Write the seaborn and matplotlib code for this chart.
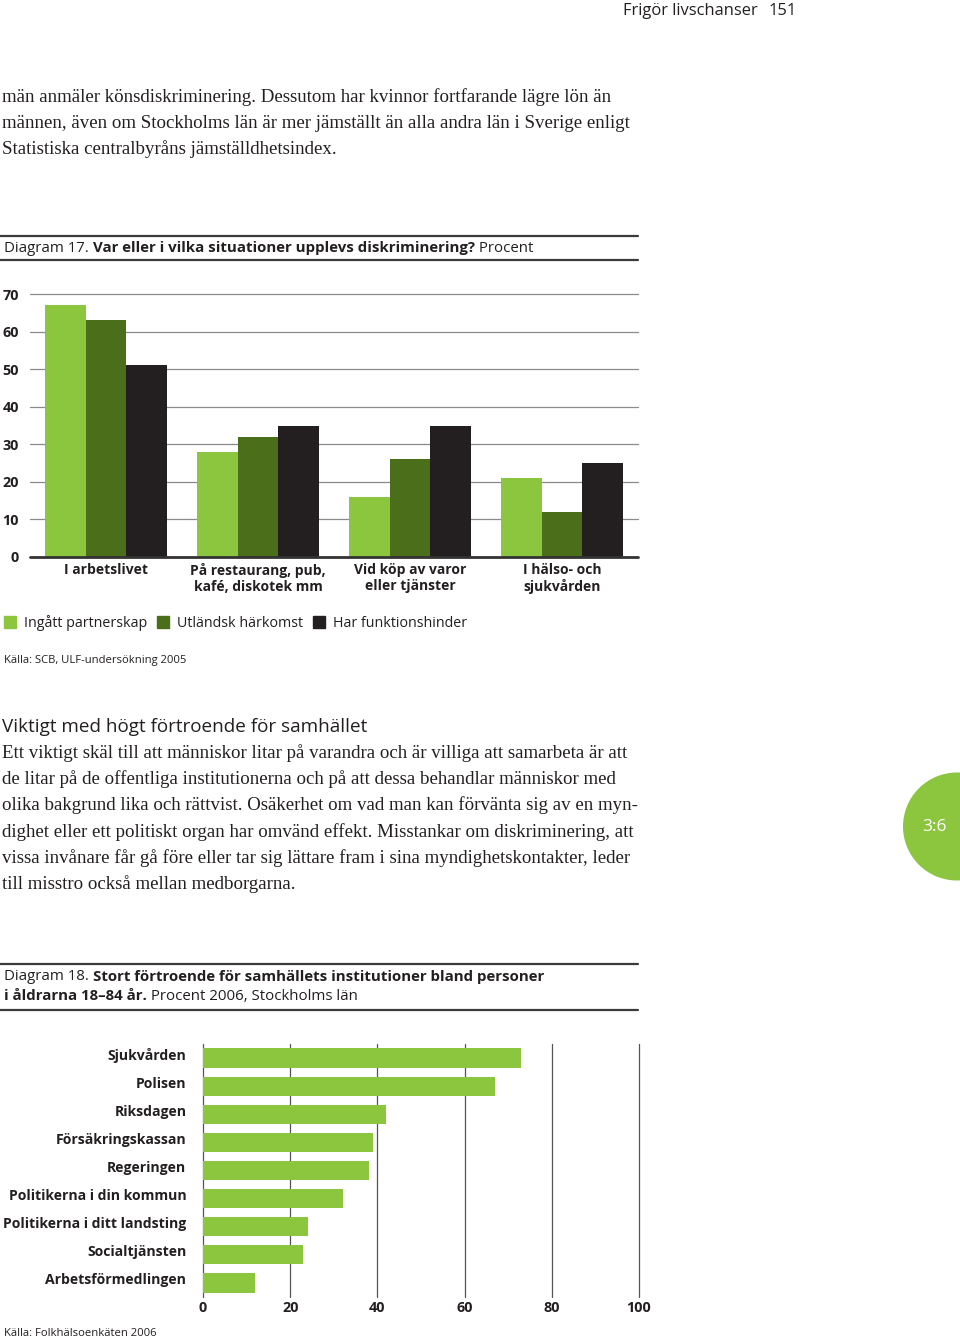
import matplotlib
matplotlib.use("Agg")
import matplotlib.pyplot as plt
import matplotlib.transforms as mtrans
import numpy as np
import pandas as pd
import seaborn as sns
from matplotlib.patches import Patch, Ellipse

# ---------------- data ----------------
categories17 = ["I arbetslivet", "På restaurang, pub,\nkafé, diskotek mm",
                "Vid köp av varor\neller tjänster", "I hälso- och\nsjukvården"]
groups17 = ["Ingått partnerskap", "Utländsk härkomst", "Har funktionshinder"]
partnerskap = [67, 28, 16, 21]
harkomst = [63, 32, 26, 12]
funktionshinder = [51, 35, 35, 25]
yticks17 = [0, 10, 20, 30, 40, 50, 60, 70]

institutions = ["Sjukvården", "Polisen", "Riksdagen", "Försäkringskassan", "Regeringen",
                "Politikerna i din kommun", "Politikerna i ditt landsting",
                "Socialtjänsten", "Arbetsförmedlingen"]
fortroende = [73, 67, 42, 39, 38, 32, 24, 23, 12]
xticks18 = [0, 20, 40, 60, 80, 100]

para1 = ["män anmäler könsdiskriminering. Dessutom har kvinnor fortfarande lägre lön än",
         "männen, även om Stockholms län är mer jämställt än alla andra län i Sverige enligt",
         "Statistiska centralbyråns jämställdhetsindex."]
para2 = ["Ett viktigt skäl till att människor litar på varandra och är villiga att samarbeta är att",
         "de litar på de offentliga institutionerna och på att dessa behandlar människor med",
         "olika bakgrund lika och rättvist. Osäkerhet om vad man kan förvänta sig av en myn-",
         "dighet eller ett politiskt organ har omvänd effekt. Misstankar om diskriminering, att",
         "vissa invånare får gå före eller tar sig lättare fram i sina myndighetskontakter, leder",
         "till misstro också mellan medborgarna."]

# ---------------- style ----------------
sns.set_style("white")
SANS = ["Open Sans", "DejaVu Sans"]
SERIF = ["Liberation Serif", "DejaVu Serif"]
plt.rcParams["font.family"] = SANS
LIGHT = "#8cc63f"
DARK = "#4b6e1b"
BLACK = "#231f20"
TXT = "#231f20"

W, H = 960, 1342
fig = plt.figure(figsize=(W / 100, H / 100), dpi=100)
renderer = fig.canvas.get_renderer()


def fx(px):
    return px / W


def fy(py):
    return 1 - py / H


def rich(x, y, parts, size, family=SANS, color=TXT):
    cx = fx(x)
    for txt, weight in parts:
        t = fig.text(cx, fy(y), txt, fontsize=size, fontweight=weight, family=family,
                     color=color, ha="left", va="center")
        bb = t.get_window_extent(renderer)
        cx = bb.x1 / W


def rule(y, lw=1.6):
    fig.add_artist(plt.Line2D([0, fx(638)], [fy(y), fy(y)], transform=fig.transFigure,
                              color="#3c3c3c", lw=lw))


TITLE_FS = 10.8
BODY_FS = 13.55

# header
fig.text(fx(623), fy(11), "Frigör livschanser", fontsize=11.9, color=TXT, va="center", ha="left")
fig.text(fx(769), fy(11), "151", fontsize=11.9, color=TXT, va="center", ha="left")

# paragraph 1
for i, line in enumerate(para1):
    fig.text(fx(2), fy(97 + 26 * i), line, fontsize=BODY_FS, family=SERIF, color=TXT, va="center")

# diagram 17 title
rule(236)
rich(4, 248, [("Diagram 17. ", "normal"),
              ("Var eller i vilka situationer upplevs diskriminering?", "bold"),
              (" Procent", "normal")], TITLE_FS)
rule(260)

# ---------------- diagram 17 ----------------
df17 = pd.DataFrame({
    "kategori": categories17 * 3,
    "grupp": sum([[g] * 4 for g in groups17], []),
    "procent": partnerskap + harkomst + funktionshinder,
})
ax1 = fig.add_axes([fx(30), fy(557), fx(638) - fx(30), fy(294) - fy(557)])
sns.barplot(data=df17, x="kategori", y="procent", hue="grupp", order=categories17,
            hue_order=groups17, palette=[LIGHT, DARK, BLACK], saturation=1, width=0.8,
            legend=False, ax=ax1, linewidth=0, errorbar=None)
ax1.set_xlim(-0.5, 3.5)
ax1.set_ylim(0, 70)
ax1.set_yticks(yticks17)
ax1.set_axisbelow(True)
for v in yticks17[1:]:
    ax1.axhline(v, color="#8a8a8a", lw=0.9, zorder=0, clip_on=False)
ax1.axhline(0, color="#333333", lw=2, zorder=3, clip_on=False)
for s in ax1.spines.values():
    s.set_visible(False)
ax1.set_xlabel("")
ax1.set_ylabel("")
ax1.tick_params(axis="y", length=0, pad=8, labelsize=10.4, colors=TXT)
ax1.tick_params(axis="x", length=0, pad=4, labelsize=10, colors=TXT)
for lab in ax1.get_yticklabels() + ax1.get_xticklabels():
    lab.set_fontweight("bold")
for lab in ax1.get_xticklabels():
    lab.set_linespacing(1.2)

handles = [Patch(color=c) for c in [LIGHT, DARK, BLACK]]
fig.legend(handles, groups17, loc="center left", bbox_to_anchor=(fx(4), fy(623)), ncol=3,
           frameon=False, fontsize=10.3, handlelength=0.85, handleheight=0.85,
           handletextpad=0.55, columnspacing=0.7, borderaxespad=0, borderpad=0,
           labelcolor=TXT)

fig.text(fx(4), fy(660), "Källa: SCB, ULF-undersökning 2005", fontsize=8.1, color=TXT, va="center")

# section heading + paragraph 2
fig.text(fx(2), fy(727), "Viktigt med högt förtroende för samhället", fontsize=13.6, color=TXT,
         va="center")
for i, line in enumerate(para2):
    fig.text(fx(2), fy(753 + 26.2 * i), line, fontsize=BODY_FS, family=SERIF, color=TXT, va="center")

# side tab
fig.add_artist(Ellipse((fx(957), fy(826.5)), 2 * 54 / W, 2 * 54 / H, transform=fig.transFigure,
                       facecolor=LIGHT, edgecolor="none"))
fig.text(fx(934), fy(827), "3:6", fontsize=12.5, color="white", ha="center", va="center")

# diagram 18 title
rule(964)
rich(4, 977, [("Diagram 18. ", "normal"),
              ("Stort förtroende för samhällets institutioner bland personer", "bold")], TITLE_FS)
rich(4, 996, [("i åldrarna 18–84 år.", "bold"), (" Procent 2006, Stockholms län", "normal")], TITLE_FS)
rule(1010)

# ---------------- diagram 18 ----------------
df18 = pd.DataFrame({"institution": institutions, "procent": fortroende})
ax2 = fig.add_axes([fx(203), fy(1297), fx(639) - fx(203), fy(1044) - fy(1297)])
sns.barplot(data=df18, y="institution", x="procent", orient="h", color=LIGHT, saturation=1,
            width=0.68, ax=ax2, linewidth=0, errorbar=None)
ax2.set_xlim(0, 100)
ax2.set_ylim(8.5, -0.5)
ax2.set_xticks(xticks18)
ax2.set_axisbelow(True)
for v in xticks18:
    ax2.axvline(v, color="#555555", lw=0.9, zorder=0, clip_on=False)
for s in ax2.spines.values():
    s.set_visible(False)
ax2.set_xlabel("")
ax2.set_ylabel("")
ax2.tick_params(axis="y", length=0, pad=12, labelsize=10.1, colors=TXT)
ax2.tick_params(axis="x", length=0, pad=3, labelsize=10.4, colors=TXT)
shift_up = mtrans.ScaledTranslation(0, 4 / 100, fig.dpi_scale_trans)
for lab in ax2.get_yticklabels():
    lab.set_fontweight("bold")
    lab.set_transform(lab.get_transform() + shift_up)
for lab in ax2.get_xticklabels():
    lab.set_fontweight("bold")

fig.text(fx(4), fy(1334), "Källa: Folkhälsoenkäten 2006", fontsize=8.1, color=TXT, va="center")

fig.savefig("out.png", dpi=100, facecolor="white")
